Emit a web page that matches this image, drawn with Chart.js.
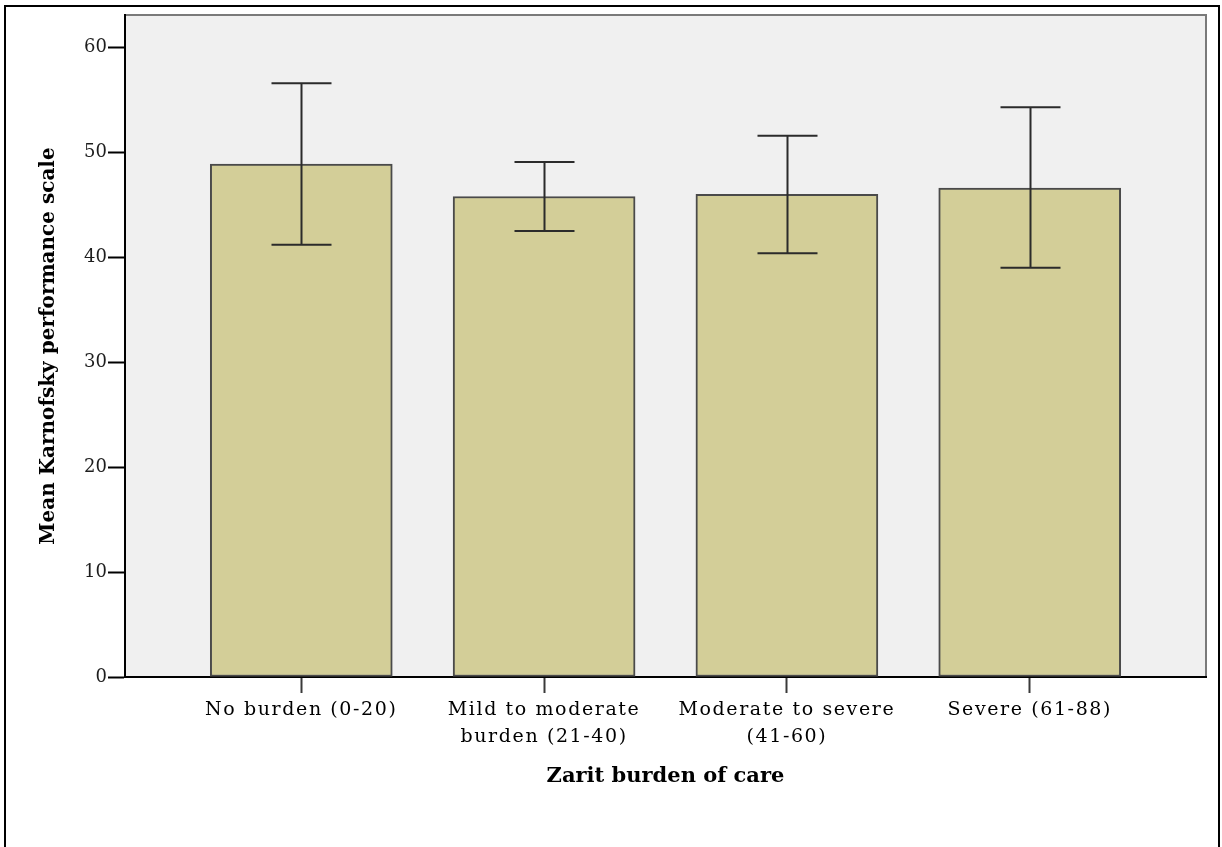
<!DOCTYPE html>
<html>
<head>
<meta charset="utf-8">
<script src="https://cdn.jsdelivr.net/npm/chart.js@4.4.1/dist/chart.umd.min.js"></script>
<style>
  html, body { margin: 0; padding: 0; background: #ffffff; overflow: hidden; }
  #wrap { position: relative; width: 1222px; height: 847px; }
  #frame { position: absolute; left: 4px; top: 5px; width: 1216px; height: 900px;
           border: 2px solid #000; box-sizing: border-box; pointer-events: none; }
</style>
</head>
<body>
<div id="wrap">
  <canvas id="chart" width="1222" height="847"></canvas>
  <div id="frame"></div>
</div>
<script>
// Zarit burden groups and mean Karnofsky score with 95% CI
const categories = [
  ['No burden (0-20)'],
  ['Mild to moderate', 'burden (21-40)'],
  ['Moderate to severe', '(41-60)'],
  ['Severe (61-88)']
];
const meanValues = [48.9, 45.8, 46.0, 46.6];
const ciLower = [41.2, 42.5, 40.4, 39.0];
const ciUpper = [56.6, 49.1, 51.6, 54.3];
const yTicks = [0, 10, 20, 30, 40, 50, 60];

const serif = "'DejaVu Serif', 'Liberation Serif', serif";

// Plot background with a light frame on the top and right sides
const plotBackground = {
  id: 'plotBackground',
  beforeDraw(chart) {
    const { ctx, chartArea: a } = chart;
    ctx.letterSpacing = '0px';
    ctx.save();
    ctx.fillStyle = '#f0f0f0';
    ctx.fillRect(a.left, a.top, a.right - a.left, a.bottom - a.top);
    ctx.strokeStyle = '#7a7a7a';
    ctx.lineWidth = 2;
    ctx.beginPath();
    ctx.moveTo(a.left, a.top);
    ctx.lineTo(a.right, a.top);
    ctx.lineTo(a.right, a.bottom);
    ctx.stroke();
    ctx.restore();
  },
  afterDraw(chart) {
    chart.ctx.letterSpacing = '0px';
  }
};

// Confidence interval whiskers drawn on top of each bar
const errorBars = {
  id: 'errorBars',
  afterDatasetsDraw(chart) {
    const { ctx, scales: { x, y } } = chart;
    const cap = 30;
    ctx.save();
    ctx.strokeStyle = '#2b2b2b';
    ctx.lineWidth = 2;
    meanValues.forEach((_, i) => {
      const cx = Math.round(x.getPixelForValue(i)) + 0.5;
      const yLo = y.getPixelForValue(ciLower[i]);
      const yHi = y.getPixelForValue(ciUpper[i]);
      ctx.beginPath();
      ctx.moveTo(cx, yHi);
      ctx.lineTo(cx, yLo);
      ctx.moveTo(cx - cap, yHi);
      ctx.lineTo(cx + cap, yHi);
      ctx.moveTo(cx - cap, yLo);
      ctx.lineTo(cx + cap, yLo);
      ctx.stroke();
    });
    ctx.restore();
    // category labels are drawn after this, slightly tracked out
    ctx.letterSpacing = '1.6px';
  }
};

new Chart(document.getElementById('chart'), {
  type: 'bar',
  data: {
    datasets: [{
      data: meanValues.map((v, i) => ({ x: i, y: v })),
      backgroundColor: '#d3ce98',
      borderColor: '#4a4a4a',
      borderWidth: 2,
      borderSkipped: false,
      barThickness: 182
    }]
  },
  options: {
    responsive: false,
    animation: false,
    events: [],
    layout: { padding: { left: 0, top: 15, right: 16, bottom: 0 } },
    plugins: { legend: { display: false }, tooltip: { enabled: false } },
    scales: {
      x: {
        type: 'linear',
        offset: false,
        min: -0.726,
        max: 3.726,
        afterBuildTicks(scale) { scale.ticks = categories.map((_, i) => ({ value: i })); },
        afterFit(scale) { scale.height = 170; },
        ticks: {
          callback: (v) => categories[v],
          color: '#000',
          font: { family: serif, size: 19, lineHeight: 1.45 },
          padding: 3,
          maxRotation: 0,
          autoSkip: false,
          z: 1
        },
        grid: { offset: false, drawOnChartArea: false, drawTicks: true, tickLength: 16, tickColor: '#3a3a3a', tickWidth: 2 },
        border: { display: true, color: '#000', width: 2 },
        title: {
          display: true,
          text: 'Zarit burden of care',
          color: '#000',
          font: { family: serif, size: 21, weight: 'bold', lineHeight: 1.2 },
          padding: { top: 0, bottom: 58 }
        }
      },
      y: {
        min: 0,
        max: 63.1,
        afterBuildTicks(scale) { scale.ticks = yTicks.map(v => ({ value: v })); },
        afterFit(scale) { scale.width = 125; },
        ticks: {
          color: '#1e1e1e',
          font: { family: serif, size: 18 },
          padding: 1
        },
        grid: { drawOnChartArea: false, drawTicks: true, tickLength: 17, tickColor: '#000', tickWidth: 2 },
        border: { display: true, color: '#000', width: 2 },
        title: {
          display: true,
          text: 'Mean Karnofsky performance scale',
          color: '#000',
          font: { family: serif, size: 20, weight: 'bold', lineHeight: 1.2 },
          padding: { top: 37, bottom: 0 }
        }
      }
    }
  },
  plugins: [plotBackground, errorBars]
});
</script>
</body>
</html>
